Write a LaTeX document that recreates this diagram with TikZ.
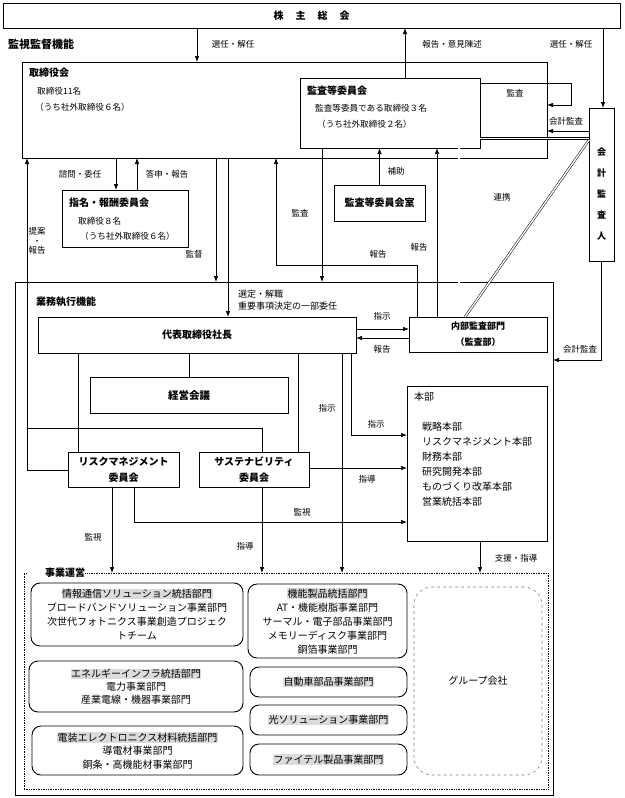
\documentclass[tikz,border=0pt]{standalone}
\usepackage{fontspec}
\setmainfont{Noto Sans CJK JP}
\usetikzlibrary{arrows.meta}
\definecolor{hlgray}{gray}{0.86}
\newcommand{\hlbox}[1]{{\setlength{\fboxsep}{0.6pt}\colorbox{hlgray}{#1}}}

\begin{document}
\begin{tikzpicture}[x=1pt, y=-1pt,
    box/.style={draw, line width=0.7pt, anchor=north west, inner sep=0pt, outer sep=0pt},
    rbox/.style={box, line width=0.9pt, rounded corners=9pt, align=center, font=\fontsize{10}{14}\selectfont},
    bf/.style={font=\bfseries\fontsize{10}{12}\selectfont},
    arr/.style={-{Latex[length=6pt,width=4.5pt]}, line width=0.7pt},
    ln/.style={line width=0.7pt},
    dbl/.style={double, double distance=1.4pt, line width=0.5pt},
    lbl/.style={font=\fontsize{8.5}{10}\selectfont, inner sep=0pt},
    txt/.style={font=\fontsize{8.6}{10}\selectfont, inner sep=0pt, anchor=west},
    ttl/.style={bf, inner sep=0pt, anchor=west},
  ]
  \useasboundingbox (0,0) rectangle (624,798);

  % supervision
  \node[box, bf, minimum width=617, minimum height=25] (share) at (3,3)
    {株\hspace{12pt}主\hspace{12pt}総\hspace{12pt}会};
  \node[ttl, font=\bfseries\fontsize{11}{12}\selectfont] at (8,44) {監視監督機能};

  \node[box, minimum width=525, minimum height=96] (board) at (22,62) {};
  \node[ttl] at (29,73) {取締役会};
  \node[txt] at (37,91) {取締役11名};
  \node[txt] at (35,107) {（うち社外取締役６名）};

  \node[box, fill=white, minimum width=180, minimum height=70] (auditc) at (300,78) {};
  \node[ttl] at (307,91) {監査等委員会};
  \node[txt] at (315,108) {監査等委員である取締役３名};
  \node[txt] at (317,124) {（うち社外取締役２名）};

  \node[box, minimum width=25, minimum height=153] (kaikei) at (589,108) {};
  \node[align=center, inner sep=0pt, font=\bfseries\fontsize{9}{21}\selectfont] at (601.5,194)
    {会\\計\\監\\査\\人};

  \node[box, minimum width=126, minimum height=57] (nomi) at (62,190) {};
  \node[ttl] at (69,203) {指名・報酬委員会};
  \node[txt] at (78,221) {取締役８名};
  \node[txt] at (80,236) {（うち社外取締役６名）};

  \node[box, bf, minimum width=91, minimum height=36] (office) at (334,185) {監査等委員会室};

  % execution
  \node[box, minimum width=538, minimum height=513] (exec) at (15,282) {};
  \node[ttl] at (36,302) {業務執行機能};

  \node[box, bf, minimum width=318, minimum height=36] (ceo) at (38,317) {代表取締役社長};
  \node[box, align=center, minimum width=138, minimum height=35,
    font=\bfseries\fontsize{9}{16}\selectfont] (internal) at (409,317) {内部監査部門\\（監査部）};
  \node[box, bf, font=\bfseries\fontsize{10.5}{12}\selectfont, minimum width=198, minimum height=36] (mgmt) at (90,377) {経営会議};

  \node[box, minimum width=140, minimum height=155] (honbu) at (407,386) {};
  \node[anchor=west, inner sep=0pt, font=\fontsize{10}{12}\selectfont] at (414,397) {本部};
  \foreach \t [count=\i] in {戦略本部, リスクマネジメント本部, 財務本部, 研究開発本部, ものづくり改革本部, 営業統括本部}
    \node[anchor=west, inner sep=0pt, font=\fontsize{10}{12}\selectfont] at (422,411+15.2*\i) {\t};

  \node[box, align=center, font=\bfseries\fontsize{10}{16}\selectfont, minimum width=111, minimum height=35] (risk) at (68,452)
    {リスクマネジメント\\委員会};
  \node[box, align=center, font=\bfseries\fontsize{10}{16}\selectfont, minimum width=110, minimum height=35] (sust) at (199,452)
    {サステナビリティ\\委員会};

  % business operations
  \node[box, densely dotted, line width=1pt, minimum width=524, minimum height=216] (ops) at (24,573) {};
  \node[ttl, fill=white, inner ysep=2pt] at (27,573) {\hspace{18pt}事業運営\hspace{5pt}};

  \node[rbox, minimum width=212, minimum height=63] (d1) at (31,583)
    {\hlbox{情報通信ソリューション統括部門}\\ブロードバンドソリューション事業部門\\次世代フォトニクス事業創造プロジェク\\トチーム};
  \node[rbox, font=\fontsize{10}{13}\selectfont, minimum width=214, minimum height=51] (d2) at (29,661)
    {\hlbox{エネルギーインフラ統括部門}\\電力事業部門\\産業電線・機器事業部門};
  \node[rbox, font=\fontsize{10}{13.5}\selectfont, minimum width=211, minimum height=49] (d3) at (32,726)
    {\hlbox{電装エレクトロニクス材料統括部門}\\導電材事業部門\\銅条・高機能材事業部門};
  \node[rbox, minimum width=159, minimum height=74] (d4) at (248,584)
    {\hlbox{機能製品統括部門}\\AT・機能樹脂事業部門\\サーマル・電子部品事業部門\\メモリーディスク事業部門\\銅箔事業部門};
  \node[rbox, minimum width=157, minimum height=30] (d5) at (250,667) {\hlbox{自動車部品事業部門}};
  \node[rbox, minimum width=157, minimum height=30] (d6) at (250,705) {\hlbox{光ソリューション事業部門}};
  \node[rbox, minimum width=157, minimum height=31] (d7) at (250,744) {\hlbox{ファイテル製品事業部門}};
  \node[box, draw=gray, dashed, line width=0.6pt, rounded corners=18pt, font=\fontsize{10}{12}\selectfont,
    minimum width=128, minimum height=188] (group) at (414,587) {グループ会社};

  % connectors, top part
  \draw[arr] (197,0 |- share.south) -- (197,0 |- board.north);
  \draw[arr] (405,0 |- auditc.north) -- (405,0 |- share.south);
  \draw[arr] (603,0 |- share.south) -- (603,0 |- kaikei.north);
  \draw[arr] (auditc.east |- 0,83) -- (571,83) -- (571,105) -- (board.east |- 0,105);
  \draw[arr] (kaikei.west |- 0,131) -- (board.east |- 0,131);
  \draw[dbl] (auditc.east |- 0,138.5) -- (kaikei.west |- 0,138.5);
  \draw[dbl] (kaikei.west |- 0,140) -- (465,0 |- internal.north);
  \draw[arr] (116,0 |- board.south) -- (116,0 |- nomi.north);
  \draw[arr] (137,0 |- nomi.north) -- (137,0 |- board.south);
  \draw[arr] (risk.west |- 0,470) -- (27,470) -- (27,0 |- board.south);
  \draw[ln] (262,0 |- sust.north) |- (27,428);
  \draw[arr] (216,0 |- board.south) -- (216,0 |- exec.north);
  \draw[arr] (228,0 |- board.south) -- (228,0 |- ceo.north);
  \draw[arr] (322,0 |- auditc.south) -- (322,0 |- exec.north);
  \draw[arr] (office.north) -- (office.north |- auditc.south);
  \draw[arr] (417,0 |- internal.north) |- (276,265) -- (276,0 |- board.south);
  \draw[arr] (437,0 |- internal.north) -- (437,0 |- auditc.south);
  \draw[dbl] (459,0 |- internal.north) -- (459,0 |- auditc.south);
  \draw[arr] (kaikei.south) |- (exec.east |- 0,360);

  % connectors, execution
  \draw[arr] (ceo.east |- 0,329) -- (internal.west |- 0,329);
  \draw[arr] (internal.west |- 0,338) -- (ceo.east |- 0,338);
  \draw[ln] (mgmt.north |- ceo.south) -- (mgmt.north);
  \draw[ln] (78,0 |- ceo.south) -- (78,0 |- risk.north);
  \draw[ln] (298,0 |- ceo.south) -- (298,0 |- sust.north);
  \draw[arr] (342,0 |- ceo.south) -- (342,0 |- ops.north);
  \draw[arr] (351,0 |- ceo.south) |- (honbu.west |- 0,435);
  \draw[arr] (sust.east |- 0,468) -- (honbu.west |- 0,468);
  \draw[arr] (112,0 |- risk.south) -- (112,0 |- ops.north);
  \draw[arr] (134,0 |- risk.south) |- (honbu.west |- 0,522);
  \draw[arr] (262,0 |- sust.south) -- (262,0 |- ops.north);
  \draw[arr] (480,0 |- honbu.south) -- (480,0 |- ops.north);

  % labels
  \node[lbl] at (233,44) {選任・解任};
  \node[lbl] at (452,44) {報告・意見陳述};
  \node[lbl] at (571,44) {選任・解任};
  \node[lbl] at (515,93) {監査};
  \node[lbl] at (566,121) {会計監査};
  \node[lbl] at (80,174) {諮問・委任};
  \node[lbl] at (167,174) {答申・報告};
  \node[lbl, align=center, font=\fontsize{8.5}{9.5}\selectfont] at (37,241) {提案\\・\\報告};
  \node[lbl] at (194,254) {監督};
  \node[lbl] at (300,213) {監査};
  \node[lbl] at (396,171) {補助};
  \node[lbl] at (502,197) {連携};
  \node[lbl] at (378,254) {報告};
  \node[lbl] at (419,247) {報告};
  \node[lbl, anchor=west, align=left, font=\fontsize{9}{12}\selectfont] at (238,300) {選定・解職\\重要事項決定の一部委任};
  \node[lbl] at (382,316) {指示};
  \node[lbl] at (382,349) {報告};
  \node[lbl] at (580,349) {会計監査};
  \node[lbl] at (327,408) {指示};
  \node[lbl] at (376,424) {指示};
  \node[lbl] at (367,479) {指導};
  \node[lbl] at (302,512) {監視};
  \node[lbl] at (93,537) {監視};
  \node[lbl] at (245,546) {指導};
  \node[lbl] at (516,558) {支援・指導};
\end{tikzpicture}
\end{document}
